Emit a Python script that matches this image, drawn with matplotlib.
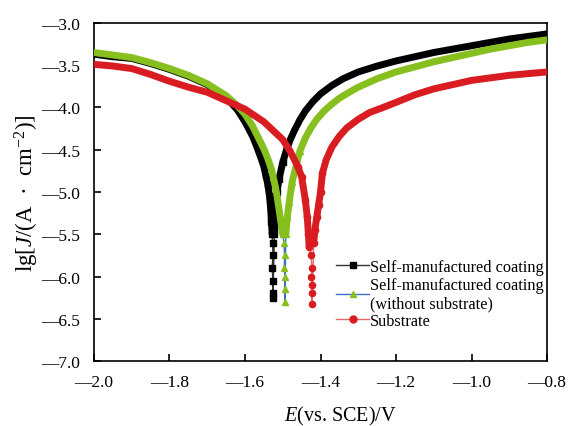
import matplotlib
matplotlib.use("Agg")
import matplotlib.pyplot as plt
from matplotlib.lines import Line2D
from matplotlib.ticker import FuncFormatter
import numpy as np

plt.rcParams["font.family"] = ["Liberation Serif", "DejaVu Serif"]
plt.rcParams["mathtext.fontset"] = "custom"
plt.rcParams["mathtext.rm"] = "Liberation Serif"
plt.rcParams["mathtext.it"] = "Liberation Serif:italic"

# Self-manufactured coating
coat_e_cath = [-2.0, -1.95, -1.9, -1.85, -1.8, -1.75, -1.7, -1.65, -1.62, -1.6, -1.58,
               -1.57, -1.56, -1.55, -1.545, -1.54, -1.535, -1.532, -1.53, -1.528]
coat_j_cath = [-3.37, -3.40, -3.42, -3.48, -3.55, -3.63, -3.73, -3.88, -4.03, -4.17, -4.34,
               -4.45, -4.57, -4.70, -4.80, -4.90, -5.05, -5.20, -5.35, -5.50]
coat_e_tail = [-1.527, -1.526, -1.528, -1.526, -1.527, -1.526]
coat_j_tail = [-5.60, -5.75, -5.90, -6.05, -6.20, -6.25]
coat_e_anod = [-1.522, -1.518, -1.515, -1.51, -1.5, -1.49, -1.48, -1.47, -1.455, -1.44, -1.42,
               -1.4, -1.37, -1.34, -1.3, -1.25, -1.2, -1.15, -1.1, -1.05, -1.0, -0.95, -0.9,
               -0.85, -0.8]
coat_j_anod = [-5.50, -5.20, -5.00, -4.85, -4.65, -4.50, -4.38, -4.28, -4.15, -4.04, -3.93,
               -3.84, -3.74, -3.66, -3.58, -3.51, -3.45, -3.40, -3.35, -3.31, -3.27, -3.23,
               -3.19, -3.16, -3.13]

# Self-manufactured coating (without substrate)
free_e_cath = [-2.0, -1.95, -1.9, -1.85, -1.8, -1.75, -1.7, -1.65, -1.62, -1.6, -1.58,
               -1.56, -1.55, -1.54, -1.53, -1.52, -1.515, -1.51, -1.505, -1.5]
free_j_cath = [-3.35, -3.38, -3.41, -3.47, -3.54, -3.62, -3.72, -3.86, -3.98, -4.08, -4.22,
               -4.40, -4.49, -4.60, -4.73, -4.93, -5.05, -5.20, -5.35, -5.50]
free_e_tail = [-1.497, -1.495, -1.496, -1.494, -1.495, -1.494]
free_j_tail = [-5.60, -5.75, -5.90, -6.00, -6.15, -6.30]
free_e_anod = [-1.492, -1.488, -1.483, -1.475, -1.465, -1.455, -1.44, -1.425, -1.41, -1.39,
               -1.37, -1.35, -1.32, -1.3, -1.25, -1.2, -1.15, -1.1, -1.05, -1.0, -0.95, -0.9,
               -0.85, -0.8]
free_j_anod = [-5.50, -5.30, -5.12, -4.88, -4.70, -4.52, -4.36, -4.24, -4.14, -4.04,
               -3.96, -3.89, -3.81, -3.76, -3.66, -3.58, -3.52, -3.46, -3.41, -3.36, -3.31,
               -3.27, -3.23, -3.20]

# Substrate
sub_e_cath = [-2.0, -1.95, -1.9, -1.85, -1.8, -1.75, -1.7, -1.65, -1.6, -1.55, -1.5, -1.48,
              -1.46, -1.45, -1.44, -1.435, -1.432, -1.43]
sub_j_cath = [-3.49, -3.51, -3.54, -3.61, -3.69, -3.76, -3.82, -3.92, -4.02, -4.17, -4.38,
              -4.52, -4.70, -4.82, -5.10, -5.30, -5.50, -5.65]
sub_e_tail = [-1.425, -1.423, -1.424, -1.422, -1.423, -1.422]
sub_j_tail = [-5.75, -5.90, -6.00, -6.10, -6.20, -6.32]
sub_e_anod = [-1.418, -1.415, -1.41, -1.405, -1.4, -1.395, -1.385, -1.37, -1.35, -1.33, -1.3,
              -1.27, -1.24, -1.2, -1.15, -1.1, -1.05, -1.0, -0.95, -0.9, -0.85, -0.8]
sub_j_anod = [-5.60, -5.45, -5.30, -5.15, -5.00, -4.78, -4.62, -4.47, -4.34, -4.24, -4.14,
              -4.06, -4.01, -3.94, -3.85, -3.78, -3.73, -3.68, -3.65, -3.62, -3.60, -3.58]

labels = ["Self-manufactured coating",
          "Self-manufactured coating\n(without substrate)",
          "Substrate"]

fig = plt.figure(figsize=(5.71, 4.27), dpi=100)
ax = fig.add_axes([0.1646, 0.152, 0.7934, 0.792])

series = [
    (coat_e_cath, coat_j_cath, coat_e_tail, coat_j_tail, coat_e_anod, coat_j_anod,
     "#000000", "#333333", "s"),
    (free_e_cath, free_j_cath, free_e_tail, free_j_tail, free_e_anod, free_j_anod,
     "#86bf1e", "#3f6fd0", "^"),
    (sub_e_cath, sub_j_cath, sub_e_tail, sub_j_tail, sub_e_anod, sub_j_anod,
     "#d91c22", "#e8666a", "o"),
]

handles = []
for ec, jc, et, jt, ea, ja, col, lcol, mk in series:
    # thin line through the whole scan
    ax.plot(ec + et + ea, jc + jt + ja, color=lcol, lw=1.0, zorder=2)
    ax.plot(et, jt, ls="none", marker=mk, ms=4.5, color=col, zorder=3)
    # dense marker bands for the two branches
    ax.plot(ec, jc, color=col, lw=5, solid_capstyle="round", zorder=3)
    ax.plot(ea, ja, color=col, lw=5, solid_capstyle="round", zorder=3)
    ax.plot(ec[-6:] + ea[:6], jc[-6:] + ja[:6], ls="none", marker=mk, ms=4.5,
            color=col, zorder=3)
    handles.append(Line2D([], [], color=lcol, lw=1.0, marker=mk, ms=5,
                          markerfacecolor=col, markeredgecolor=col))

ax.set_xlim(-2.0, -0.8)
ax.set_ylim(-7.0, -3.0)
ax.set_xticks(np.arange(-2.0, -0.79, 0.2))
ax.set_yticks(np.arange(-7.0, -2.99, 0.5))
fmt = FuncFormatter(lambda v, p: f"{v:.1f}".replace("-", "\u2014"))
ax.xaxis.set_major_formatter(fmt)
ax.yaxis.set_major_formatter(fmt)
ax.tick_params(direction="in", length=5, width=1.2, labelsize=12.5,
               top=False, right=False)
ax.tick_params(axis="x", pad=9)
ax.tick_params(axis="y", pad=10)
for s in ax.spines.values():
    s.set_linewidth(1.2)

ax.set_xlabel("$E$(vs. SCE)/V", fontsize=14.5)
ax.xaxis.set_label_coords(0.543, -0.128)
ax.set_ylabel("lg[$J$/(A  ·  cm$^{-2}$)]", fontsize=16.5)
ax.yaxis.set_label_coords(-0.118, 0.5)

ax.legend(handles, labels, loc="upper left", bbox_to_anchor=(0.51, 0.335),
          frameon=False, fontsize=11.7, handlelength=2.0, handletextpad=0.05,
          labelspacing=0.1, borderpad=0.2)

fig.savefig("out.png", dpi=100)
